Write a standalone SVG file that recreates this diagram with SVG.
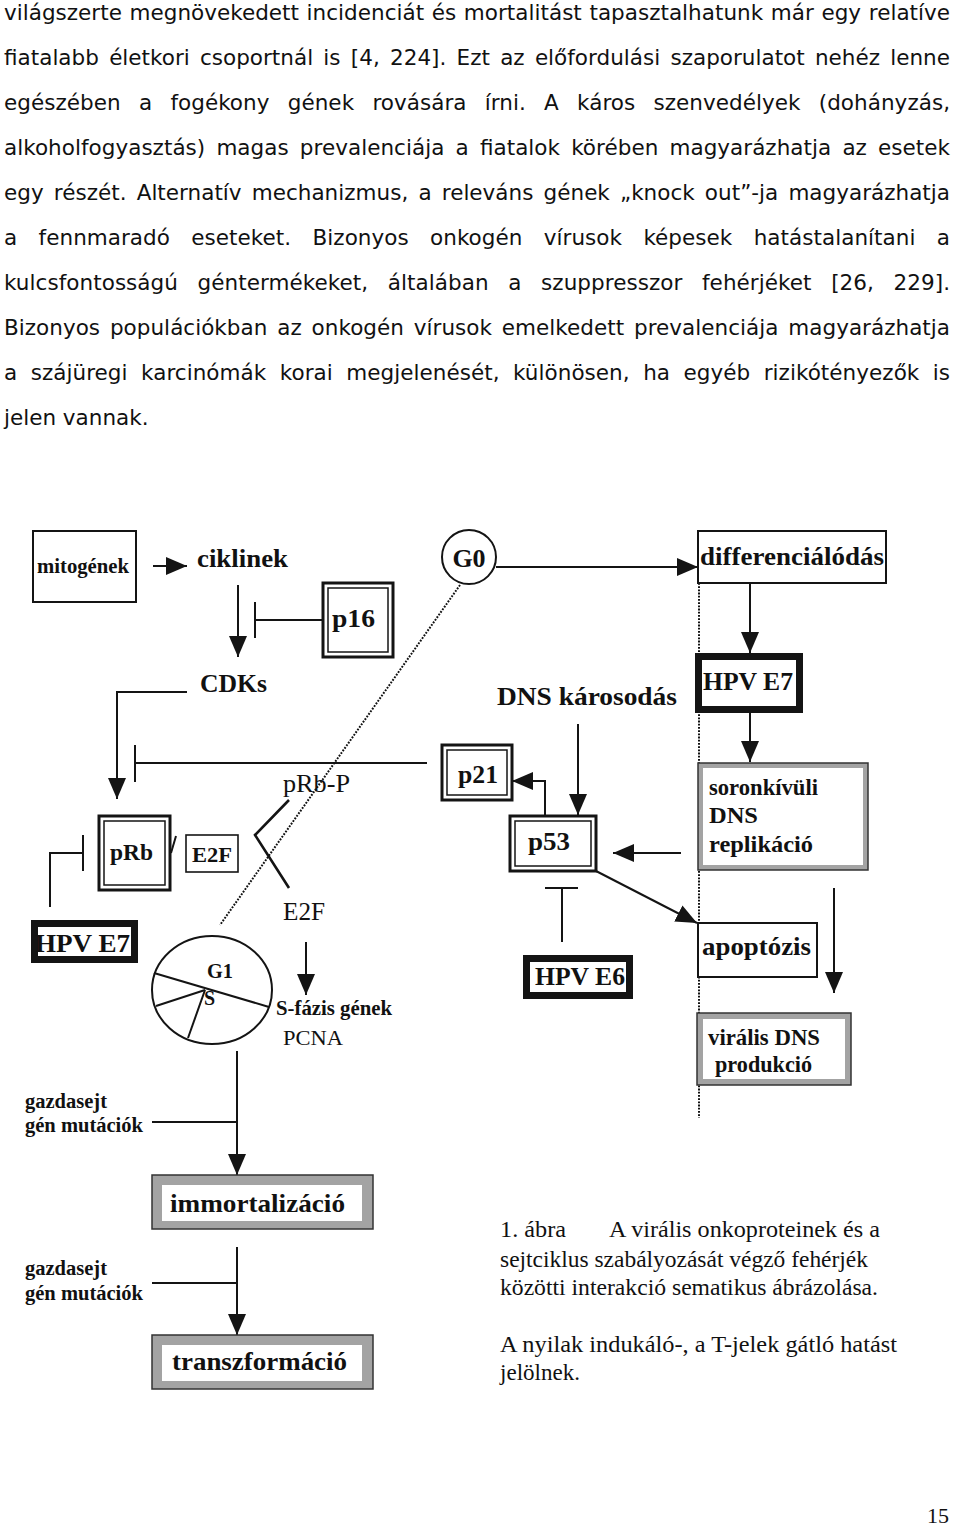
<svg xmlns="http://www.w3.org/2000/svg" width="960" height="1526" viewBox="0 0 960 1526">
<style>
.p{font-family:"DejaVu Sans",Verdana,sans-serif;font-size:21.5px;fill:#111}
.b{font-family:"Liberation Serif","Times New Roman",serif;font-weight:bold;fill:#111}
.r{font-family:"Liberation Serif","Times New Roman",serif;fill:#111}
.ln{stroke:#141414;stroke-width:2;fill:none}
.dot{stroke:#111;stroke-width:2;stroke-dasharray:1.8 1.4;fill:none}
.box{fill:#fff;stroke:#141414;stroke-width:2}
.dblo{fill:#fff;stroke:#141414;stroke-width:3}
.dbli{fill:none;stroke:#141414;stroke-width:1.5}
.thk{fill:#fff;stroke:#141414;stroke-width:7}
.gro{fill:#a3a3a3;stroke:#333;stroke-width:1.5}
.gri{fill:#fff;stroke:none}
</style>
<defs>
<marker id="ah" markerUnits="userSpaceOnUse" markerWidth="22" markerHeight="18" refX="21" refY="9" orient="auto">
<path d="M0,0 L21,9 L0,18 z" fill="#141414"/>
</marker>
</defs>
<rect width="960" height="1526" fill="#fff"/>

<g id="paragraph">
<text class="p" x="4" y="20" textLength="946" lengthAdjust="spacing" word-spacing="0.8">világszerte megnövekedett incidenciát és mortalitást tapasztalhatunk már egy relatíve</text>
<text class="p" x="4" y="65" textLength="946" lengthAdjust="spacing" word-spacing="3.4">fiatalabb életkori csoportnál is [4, 224]. Ezt az előfordulási szaporulatot nehéz lenne</text>
<text class="p" x="4" y="110" textLength="946" lengthAdjust="spacing" word-spacing="11.4">egészében a fogékony gének rovására írni. A káros szenvedélyek (dohányzás,</text>
<text class="p" x="4" y="155" textLength="946" lengthAdjust="spacing" word-spacing="4.3">alkoholfogyasztás) magas prevalenciája a fiatalok körében magyarázhatja az esetek</text>
<text class="p" x="4" y="200" textLength="946" lengthAdjust="spacing" word-spacing="3.3">egy részét. Alternatív mechanizmus, a releváns gének „knock out”-ja magyarázhatja</text>
<text class="p" x="4" y="245" textLength="946" lengthAdjust="spacing" word-spacing="14.5">a fennmaradó eseteket. Bizonyos onkogén vírusok képesek hatástalanítani a</text>
<text class="p" x="4" y="290" textLength="946" lengthAdjust="spacing" word-spacing="12.7">kulcsfontosságú géntermékeket, általában a szuppresszor fehérjéket [26, 229].</text>
<text class="p" x="4" y="335" textLength="946" lengthAdjust="spacing" word-spacing="3">Bizonyos populációkban az onkogén vírusok emelkedett prevalenciája magyarázhatja</text>
<text class="p" x="4" y="380" textLength="946" lengthAdjust="spacing" word-spacing="6.6">a szájüregi karcinómák korai megjelenését, különösen, ha egyéb rizikótényezők is</text>
<text class="p" x="4" y="425">jelen vannak.</text>
</g>

<g id="connectors">
<line class="ln" x1="153" y1="566" x2="187" y2="566" marker-end="url(#ah)"/>
<line class="ln" x1="238" y1="585" x2="238" y2="657" marker-end="url(#ah)"/>
<line class="ln" x1="323" y1="620" x2="255" y2="620"/>
<line class="ln" x1="255" y1="602" x2="255" y2="638"/>
<polyline class="ln" points="187,692 117,692 117,799" marker-end="url(#ah)"/>
<line class="ln" x1="427" y1="763" x2="135" y2="763"/>
<line class="ln" x1="135" y1="745" x2="135" y2="782"/>
<line class="dot" x1="460" y1="585" x2="220" y2="925"/>
<line class="ln" x1="496" y1="567" x2="698" y2="567" marker-end="url(#ah)"/>
<line class="dot" x1="699" y1="583" x2="699" y2="1118"/>
<line class="ln" x1="750" y1="583" x2="750" y2="653" marker-end="url(#ah)"/>
<line class="ln" x1="750" y1="713" x2="750" y2="762" marker-end="url(#ah)"/>
<line class="ln" x1="578" y1="724" x2="578" y2="815" marker-end="url(#ah)"/>
<polyline class="ln" points="545,816 545,781 512,781" marker-end="url(#ah)"/>
<line class="ln" x1="681" y1="853" x2="613" y2="853" marker-end="url(#ah)"/>
<line class="ln" x1="596" y1="871" x2="697" y2="923" marker-end="url(#ah)"/>
<line class="ln" x1="545" y1="888" x2="578" y2="888"/>
<line class="ln" x1="562" y1="888" x2="562" y2="942"/>
<line class="ln" x1="834" y1="888" x2="834" y2="993" marker-end="url(#ah)"/>
<line class="ln" x1="171" y1="853" x2="176" y2="836"/>
<polyline class="ln" points="50,907 50,853 83,853"/>
<line class="ln" x1="83" y1="835" x2="83" y2="871"/>
<polyline class="ln" style="stroke-width:2.6" points="289,800 255,835 289,888"/>
<line class="ln" x1="306" y1="942" x2="306" y2="995" marker-end="url(#ah)"/>
<line class="ln" x1="237" y1="1051" x2="237" y2="1175" marker-end="url(#ah)"/>
<line class="ln" x1="152" y1="1122" x2="237" y2="1122"/>
<line class="ln" x1="237" y1="1247" x2="237" y2="1335" marker-end="url(#ah)"/>
<line class="ln" x1="152" y1="1283" x2="237" y2="1283"/>
</g>

<g id="mitogenek">
<rect class="box" x="33" y="531" width="103" height="71"/>
<text class="b" x="37" y="573" font-size="20" textLength="92" lengthAdjust="spacingAndGlyphs">mitogének</text>
</g>
<g id="ciklinek">
<text class="b" x="197" y="567" font-size="26" textLength="91" lengthAdjust="spacingAndGlyphs">ciklinek</text>
</g>
<g id="p16">
<rect class="dblo" x="323" y="583" width="70" height="74"/>
<rect class="dbli" x="328" y="588" width="60" height="64"/>
<text class="b" x="332" y="627" font-size="26" textLength="43" lengthAdjust="spacingAndGlyphs">p16</text>
</g>
<g id="cdks">
<text class="b" x="200" y="692" font-size="26" textLength="67" lengthAdjust="spacingAndGlyphs">CDKs</text>
</g>
<g id="g0">
<circle cx="469" cy="557" r="27" fill="#fff" stroke="#141414" stroke-width="2"/>
<text class="b" x="469" y="567" font-size="26" text-anchor="middle">G0</text>
</g>
<g id="differencialodas">
<rect class="box" x="698" y="531" width="188" height="52"/>
<text class="b" x="700" y="565" font-size="26" textLength="184" lengthAdjust="spacingAndGlyphs">differenciálódás</text>
</g>
<g id="hpve7-right">
<rect class="thk" x="698.5" y="656.5" width="101" height="53"/>
<text class="b" x="703" y="690" font-size="25" textLength="90" lengthAdjust="spacingAndGlyphs">HPV E7</text>
</g>
<g id="dns-karosodas">
<text class="b" x="497" y="705" font-size="26" textLength="180" lengthAdjust="spacingAndGlyphs">DNS károsodás</text>
</g>
<g id="p21">
<rect class="dblo" x="442" y="745" width="70" height="55"/>
<rect class="dbli" x="447" y="750" width="60" height="45"/>
<text class="b" x="458" y="783" font-size="26" textLength="40" lengthAdjust="spacingAndGlyphs">p21</text>
</g>
<g id="p53">
<rect class="dblo" x="510" y="816" width="86" height="55"/>
<rect class="dbli" x="515" y="821" width="76" height="45"/>
<text class="b" x="528" y="850" font-size="26" textLength="42" lengthAdjust="spacingAndGlyphs">p53</text>
</g>
<g id="soronkivuli">
<rect class="gro" x="698" y="763" width="170" height="107"/>
<rect class="gri" x="703" y="768" width="160" height="97"/>
<text class="b" x="709" y="795" font-size="23" textLength="109" lengthAdjust="spacingAndGlyphs">soronkívüli</text>
<text class="b" x="709" y="823" font-size="24" textLength="49" lengthAdjust="spacingAndGlyphs">DNS</text>
<text class="b" x="709" y="852" font-size="24" textLength="104" lengthAdjust="spacingAndGlyphs">replikáció</text>
</g>
<g id="apoptozis">
<rect class="box" x="698" y="923" width="119" height="54"/>
<text class="b" x="702" y="955" font-size="26" textLength="109" lengthAdjust="spacingAndGlyphs">apoptózis</text>
</g>
<g id="hpve6">
<rect class="thk" x="526.5" y="958.5" width="103" height="37"/>
<text class="b" x="535" y="985" font-size="25" textLength="90" lengthAdjust="spacingAndGlyphs">HPV E6</text>
</g>
<g id="viralis">
<rect class="gro" x="697" y="1013" width="154" height="72"/>
<rect class="gri" x="703" y="1019" width="142" height="60"/>
<text class="b" x="708" y="1045" font-size="23" textLength="112" lengthAdjust="spacingAndGlyphs">virális DNS</text>
<text class="b" x="715" y="1072" font-size="23" textLength="97" lengthAdjust="spacingAndGlyphs">produkció</text>
</g>
<g id="prb">
<rect class="dblo" x="99" y="816" width="71" height="74"/>
<rect class="dbli" x="104" y="821" width="61" height="64"/>
<text class="b" x="110" y="860" font-size="24" textLength="43" lengthAdjust="spacingAndGlyphs">pRb</text>
</g>
<g id="e2f-box">
<rect class="box" x="186" y="835" width="52" height="37" style="stroke-width:1.6"/>
<text class="b" x="192" y="862" font-size="21" textLength="40" lengthAdjust="spacingAndGlyphs">E2F</text>
</g>
<g id="hpve7-left">
<rect class="thk" x="34.5" y="923.5" width="100" height="36"/>
<text class="b" x="35" y="952" font-size="26" textLength="95" lengthAdjust="spacingAndGlyphs">HPV E7</text>
</g>
<g id="prb-p">
<text class="r" x="283" y="792" font-size="26" textLength="67" lengthAdjust="spacingAndGlyphs">pRb-P</text>
</g>
<g id="e2f-free">
<text class="r" x="283" y="920" font-size="25" textLength="42" lengthAdjust="spacingAndGlyphs">E2F</text>
</g>
<g id="cellcycle">
<ellipse cx="212" cy="990" rx="60" ry="54" fill="none" stroke="#141414" stroke-width="2"/>
<line class="ln" x1="154" y1="973" x2="269" y2="1007"/>
<line class="ln" x1="205" y1="990" x2="156" y2="1006"/>
<line class="ln" x1="205" y1="990" x2="188" y2="1038"/>
<text class="b" x="207" y="978" font-size="20" textLength="26" lengthAdjust="spacingAndGlyphs">G1</text>
<text class="b" x="204" y="1005" font-size="20">S</text>
</g>
<g id="s-fazis">
<text class="b" x="276" y="1015" font-size="20" textLength="116" lengthAdjust="spacingAndGlyphs">S-fázis gének</text>
<text class="r" x="283" y="1045" font-size="22" textLength="60" lengthAdjust="spacingAndGlyphs">PCNA</text>
</g>
<g id="gazdasejt1">
<text class="b" x="25" y="1108" font-size="20" textLength="82" lengthAdjust="spacingAndGlyphs">gazdasejt</text>
<text class="b" x="25" y="1132" font-size="20" textLength="118" lengthAdjust="spacingAndGlyphs">gén mutációk</text>
</g>
<g id="immortalizacio">
<rect class="gro" x="152" y="1175" width="221" height="54"/>
<rect class="gri" x="162" y="1185" width="200" height="36"/>
<text class="b" x="170" y="1212" font-size="26" textLength="175" lengthAdjust="spacingAndGlyphs">immortalizáció</text>
</g>
<g id="gazdasejt2">
<text class="b" x="25" y="1275" font-size="20" textLength="82" lengthAdjust="spacingAndGlyphs">gazdasejt</text>
<text class="b" x="25" y="1300" font-size="20" textLength="118" lengthAdjust="spacingAndGlyphs">gén mutációk</text>
</g>
<g id="transzformacio">
<rect class="gro" x="152" y="1335" width="221" height="54"/>
<rect class="gri" x="162" y="1345" width="200" height="36"/>
<text class="b" x="172" y="1370" font-size="26" textLength="175" lengthAdjust="spacingAndGlyphs">transzformáció</text>
</g>

<g id="caption">
<text class="r" x="500" y="1237" font-size="23.5" textLength="66" lengthAdjust="spacingAndGlyphs">1. ábra</text>
<text class="r" x="609" y="1237" font-size="23.5" textLength="271" lengthAdjust="spacingAndGlyphs">A virális onkoproteinek és a</text>
<text class="r" x="500" y="1267" font-size="23.5" textLength="368" lengthAdjust="spacingAndGlyphs">sejtciklus szabályozását végző fehérjék</text>
<text class="r" x="500" y="1295" font-size="23.5" textLength="378" lengthAdjust="spacingAndGlyphs">közötti interakció sematikus ábrázolása.</text>
<text class="r" x="500" y="1352" font-size="23.5" textLength="397" lengthAdjust="spacingAndGlyphs">A nyilak indukáló-, a T-jelek gátló hatást</text>
<text class="r" x="500" y="1380" font-size="23.5" textLength="80" lengthAdjust="spacingAndGlyphs">jelölnek.</text>
</g>
<g id="pagenum">
<text class="r" x="949" y="1523" font-size="22" text-anchor="end">15</text>
</g>
</svg>
